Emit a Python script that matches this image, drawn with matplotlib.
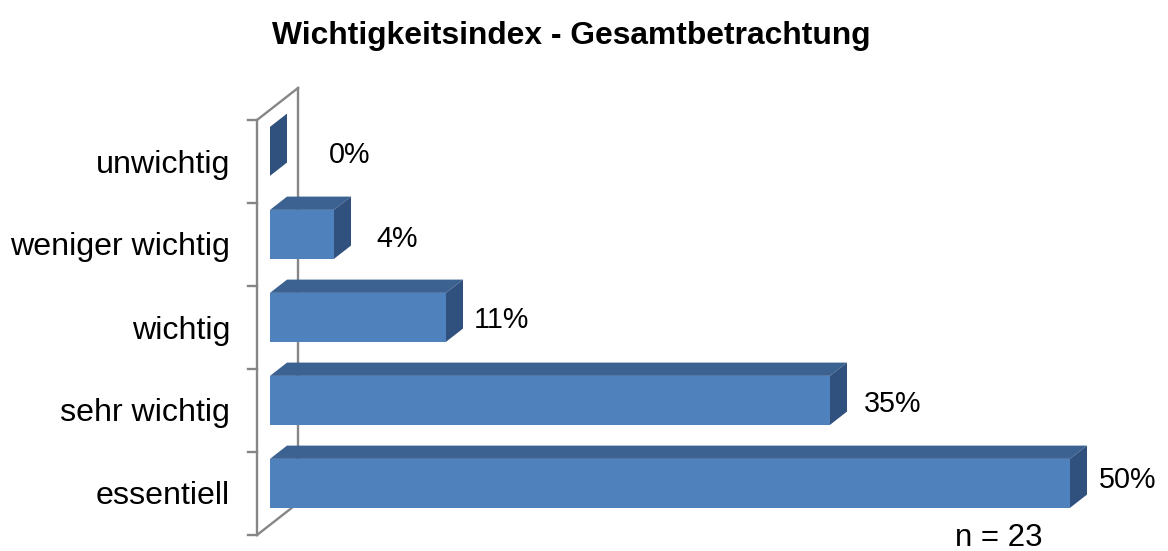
import numpy as np
import matplotlib.pyplot as plt
from matplotlib.patches import Polygon

plt.rcParams['font.family'] = ['Liberation Sans', 'DejaVu Sans']

# data (top to bottom as shown in the chart)
categories = ["unwichtig", "weniger wichtig", "wichtig", "sehr wichtig", "essentiell"]
values = [0, 4, 11, 35, 50]
title = "Wichtigkeitsindex - Gesamtbetrachtung"
note = "n = 23"

# 3d look: depth vector of the wall (x in %, y in category units)
DX, DY = 2.5625, 0.3855
d0, d1 = 0.317, 0.732      # bar front / back depth fraction
h = 0.295                  # half height of a bar
c_front, c_top, c_side = "#4f81bd", "#3c6292", "#30507d"
c_wall = "#868686"

# label nudges in pixels (x from bar side edge, baseline below bar centre)
lab_dx = [63, 46, 38, 46, 41]
lab_dy = [-12, -13, -11, -12, -5]

fig = plt.figure(figsize=(11.68, 5.51), dpi=100)
ax = fig.add_axes([0, 0, 1, 1])
ax.set_xlim(-257 / 16, (1168 - 257) / 16)
ax.set_ylim((493.5 - 551) / 83, 493.5 / 83)
ax.axis("off")

n = len(categories)
# wall
ax.plot([0, 0], [-0.5, n - 0.5], color=c_wall, lw=1.7, zorder=1)
ax.plot([DX, DX], [-0.5 + DY, n - 0.5 + DY], color=c_wall, lw=1.7, zorder=1)
ax.plot([0, DX], [n - 0.5, n - 0.5 + DY], color=c_wall, lw=1.7, zorder=1)
ax.plot([0, DX], [-0.5, -0.5 + DY], color=c_wall, lw=1.7, zorder=1)
for t in np.arange(-0.5, n, 1.0):
    ax.plot([-0.5625, 0], [t, t], color=c_wall, lw=1.7, zorder=1)

for k, (cat, v) in enumerate(zip(categories, values)):
    i = n - 1 - k
    x0, x1 = d0 * DX, v + d0 * DX
    y0 = i + d0 * DY
    ex, ey = (d1 - d0) * DX, (d1 - d0) * DY
    if v > 0:
        ax.add_patch(Polygon([(x0, y0 - h), (x1, y0 - h), (x1, y0 + h), (x0, y0 + h)],
                             closed=True, fc=c_front, ec="none", zorder=3))
        ax.add_patch(Polygon([(x0, y0 + h), (x1, y0 + h), (x1 + ex, y0 + h + ey), (x0 + ex, y0 + h + ey)],
                             closed=True, fc=c_top, ec="none", zorder=2))
    ax.add_patch(Polygon([(x1, y0 - h), (x1, y0 + h), (x1 + ex, y0 + h + ey), (x1 + ex, y0 - h + ey)],
                         closed=True, fc=c_side, ec="none", zorder=2))
    ax.annotate(f"{v}%", (x1 + ex, y0), xytext=(lab_dx[k], lab_dy[k]),
                textcoords="offset pixels", ha="center", va="baseline", fontsize=20.7)
    ax.annotate(cat, (0, i), xytext=(-27, -11), textcoords="offset pixels",
                ha="right", va="baseline", fontsize=23.1)

fig.text(571 / 1168, 1 - 44 / 551, title, ha="center", va="baseline",
         fontsize=22.9, fontweight="bold")
fig.text(999 / 1168, 1 - 546 / 551, note, ha="center", va="baseline", fontsize=22.5)

plt.savefig("out.png", dpi=100)
